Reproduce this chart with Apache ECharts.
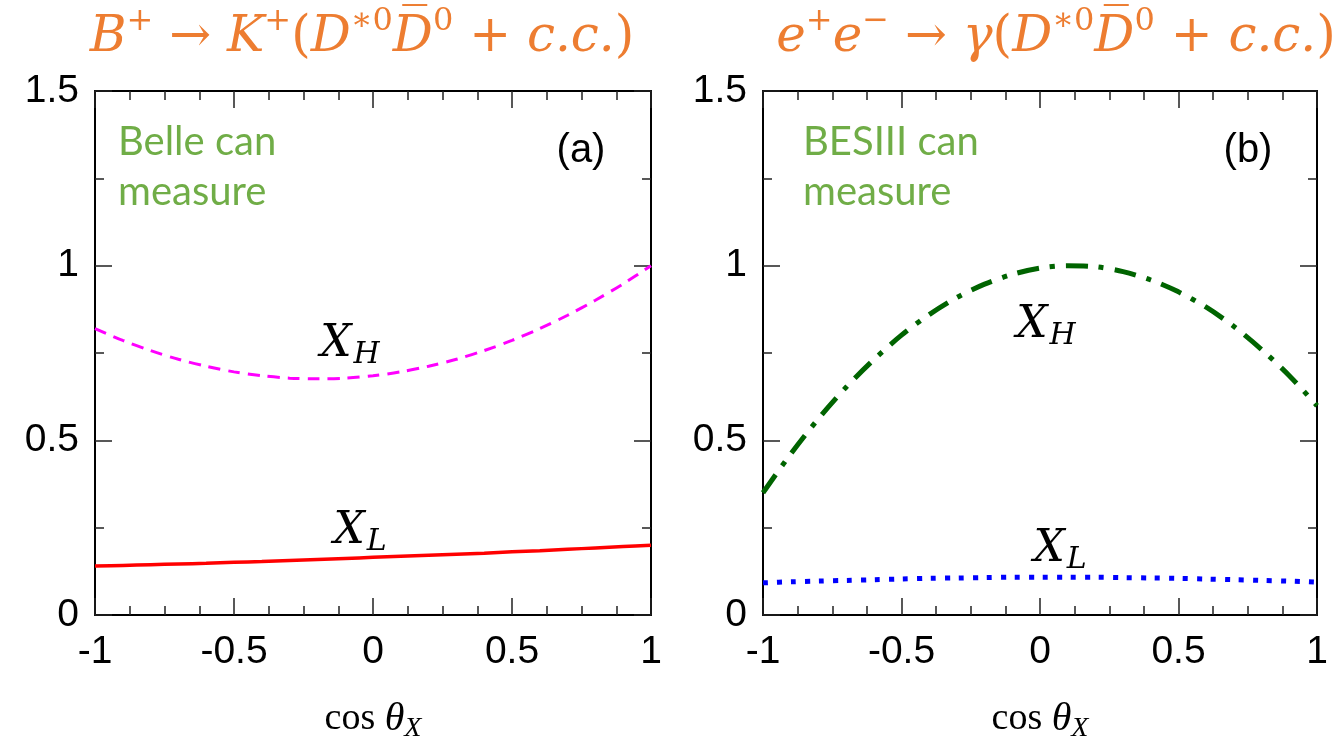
<!DOCTYPE html>
<html><head><meta charset="utf-8">
<script src="https://cdn.jsdelivr.net/npm/echarts@6/dist/echarts.min.js"></script>
<style>html,body{margin:0;padding:0;background:#fff}#c{width:1340px;height:743px}</style>
</head><body><div id="c"></div>
<script>
// cos(theta_X) sample positions
const cosTheta = [-1,-0.9,-0.8,-0.7,-0.6,-0.5,-0.4,-0.3,-0.2,-0.1,0,0.1,0.2,0.3,0.4,0.5,0.6,0.7,0.8,0.9,1];
// Panel (a): B+ -> K+ (D*0 D0bar + c.c.)
const belleXH = [0.820,0.786,0.757,0.732,0.712,0.696,0.685,0.678,0.676,0.678,0.685,0.696,0.712,0.732,0.757,0.786,0.820,0.858,0.901,0.948,1.000];
const belleXL = [0.140,0.142,0.144,0.146,0.148,0.151,0.153,0.156,0.159,0.162,0.165,0.168,0.171,0.174,0.177,0.181,0.184,0.188,0.192,0.196,0.200];
// Panel (b): e+e- -> gamma (D*0 D0bar + c.c.)
const besXH = [0.350,0.461,0.562,0.652,0.731,0.801,0.860,0.909,0.947,0.975,0.993,1.000,0.997,0.983,0.959,0.925,0.881,0.826,0.760,0.685,0.599];
const besXL = [0.092,0.095,0.097,0.099,0.101,0.103,0.105,0.106,0.107,0.108,0.108,0.108,0.108,0.107,0.106,0.105,0.103,0.101,0.099,0.097,0.094];

const xMin = -1, xMax = 1, xStep = 0.5;
const yMin = 0, yMax = 1.5, yStep = 0.5;

const pair = (ys) => cosTheta.map((x, i) => [x, ys[i]]);

const chart = echarts.init(document.getElementById('c'), null, {renderer: 'canvas'});

const grids = [
  {left: 95, top: 91, width: 556, height: 524, outerBoundsMode: 'none', containLabel: false},
  {left: 763, top: 91, width: 554, height: 524, outerBoundsMode: 'none', containLabel: false}
];

const tickFont = {fontFamily: '"Liberation Sans", Arial, sans-serif', fontSize: 39, color: '#000'};
const lineBlack = {show: true, onZero: false, lineStyle: {color: '#000', width: 2}};

function xAx(gi, pos) {
  const main = pos === 'bottom';
  return {
    type: 'value', gridIndex: gi, position: pos, min: xMin, max: xMax, interval: xStep,
    axisLine: lineBlack,
    axisTick: {show: true, inside: true, length: 17, lineStyle: {color: '#222', width: 1.5}},
    minorTick: {show: true, splitNumber: 4, length: 9, lineStyle: {color: '#222', width: 1.5}},
    splitLine: {show: false}, minorSplitLine: {show: false},
    axisLabel: main ? Object.assign({show: true, margin: 18}, tickFont) : {show: false},
    name: main ? '{c|cos }{t|θ}{s|X}' : '',
    nameLocation: 'middle', nameGap: 80,
    nameTextStyle: {
      rich: {
        c: {fontFamily: '"Liberation Serif", serif', fontSize: 38, color: '#000', lineHeight: 48, verticalAlign: 'middle'},
        t: {fontFamily: '"Liberation Serif", serif', fontStyle: 'italic', fontSize: 40, color: '#000', lineHeight: 48, verticalAlign: 'middle'},
        s: {fontFamily: '"Liberation Serif", serif', fontStyle: 'italic', fontSize: 28, color: '#000', lineHeight: 24, verticalAlign: 'bottom', padding: [20, 0, 0, 0]}
      }
    }
  };
}
function yAx(gi, pos) {
  const main = pos === 'left';
  return {
    type: 'value', gridIndex: gi, position: pos, min: yMin, max: yMax, interval: yStep,
    axisLine: lineBlack,
    axisTick: {show: true, inside: true, length: 17, lineStyle: {color: '#222', width: 1.5}},
    minorTick: {show: true, splitNumber: 2, length: 9, lineStyle: {color: '#222', width: 1.5}},
    splitLine: {show: false}, minorSplitLine: {show: false},
    axisLabel: main ? Object.assign({show: true, margin: 16}, tickFont) : {show: false}
  };
}

const orange = '#ED7D31';
const green = '#70AD47';
const mathI = {fontFamily: '"DejaVu Serif", serif', fontStyle: 'italic', fontSize: 50, fill: orange, lineHeight: 64, verticalAlign: 'middle'};
const mathN = {fontFamily: '"DejaVu Serif", serif', fontSize: 50, fill: orange, lineHeight: 64, verticalAlign: 'middle'};
const mathSup = {fontFamily: '"DejaVu Serif", serif', fontSize: 32, fill: orange, lineHeight: 32, verticalAlign: 'top'};
const titleRich = {i: mathI, n: mathN, p: mathSup};

const lblI = {fontFamily: '"DejaVu Serif", serif', fontStyle: 'italic', fontSize: 44, fill: '#000', lineHeight: 50, verticalAlign: 'middle'};
const lblSub = {fontFamily: '"DejaVu Serif", serif', fontStyle: 'italic', fontSize: 30, fill: '#000', lineHeight: 30, verticalAlign: 'bottom', padding: [0, 0, 0, 2]};
const lblRich = {x: lblI, s: lblSub};

function txt(x, y, text, rich, align) {
  return {type: 'text', x: x, y: y, z: 100,
    style: {text: text, rich: rich, align: align || 'center', verticalAlign: 'middle'}};
}
const greenStyle = {fontFamily: 'Lato, "Open Sans", sans-serif', fontSize: 40, fill: green, lineHeight: 50};
const plainStyle = {fontFamily: '"Liberation Sans", Arial, sans-serif', fontSize: 40, fill: '#000'};

const graphics = [
  txt(362, 38, '{i|B}{p|+}{n| → }{i|K}{p|+}{n|(}{i|D}{p|∗0}{i|D̅}{p|0}{n| + }{i|c.c.}{n|)}', titleRich),
  txt(1056, 38, '{i|e}{p|+}{i|e}{p|−}{n| → }{i|γ}{n|(}{i|D}{p|∗0}{i|D̅}{p|0}{n| + }{i|c.c.}{n|)}', titleRich),
  {type: 'text', x: 118, y: 117, z: 100, style: Object.assign({text: 'Belle can\nmeasure'}, greenStyle)},
  {type: 'text', x: 803, y: 117, z: 100, style: Object.assign({text: 'BESIII can\nmeasure'}, greenStyle)},
  {type: 'text', x: 581, y: 151, z: 100, style: Object.assign({text: '(a)', align: 'center', verticalAlign: 'middle'}, plainStyle)},
  {type: 'text', x: 1248, y: 151, z: 100, style: Object.assign({text: '(b)', align: 'center', verticalAlign: 'middle'}, plainStyle)},
  txt(350, 345, '{x|X}{s|H}', lblRich),
  txt(360, 532, '{x|X}{s|L}', lblRich),
  txt(1046, 326, '{x|X}{s|H}', lblRich),
  txt(1060, 550, '{x|X}{s|L}', lblRich)
];

const option = {
  backgroundColor: '#fff',
  animation: false,
  grid: grids,
  xAxis: [xAx(0, 'bottom'), xAx(0, 'top'), xAx(1, 'bottom'), xAx(1, 'top')],
  yAxis: [yAx(0, 'left'), yAx(0, 'right'), yAx(1, 'left'), yAx(1, 'right')],
  series: [
    {name: 'Belle X_H', type: 'line', xAxisIndex: 0, yAxisIndex: 0, data: pair(belleXH), smooth: 0.3, showSymbol: false,
      lineStyle: {color: '#FF00FF', width: 3, type: [12, 8], cap: 'butt'}},
    {name: 'Belle X_L', type: 'line', xAxisIndex: 0, yAxisIndex: 0, data: pair(belleXL), smooth: 0.3, showSymbol: false,
      lineStyle: {color: '#FF0000', width: 3.5}},
    {name: 'BESIII X_H', type: 'line', xAxisIndex: 2, yAxisIndex: 2, data: pair(besXH), smooth: 0.3, showSymbol: false,
      lineStyle: {color: '#006400', width: 5, type: [22, 11, 5, 11], cap: 'butt'}},
    {name: 'BESIII X_L', type: 'line', xAxisIndex: 2, yAxisIndex: 2, data: pair(besXL), smooth: 0.3, showSymbol: false,
      lineStyle: {color: '#0000FF', width: 5, type: [5, 9], cap: 'butt'}}
  ],
  graphic: graphics
};
chart.setOption(option);
</script>
</body></html>
